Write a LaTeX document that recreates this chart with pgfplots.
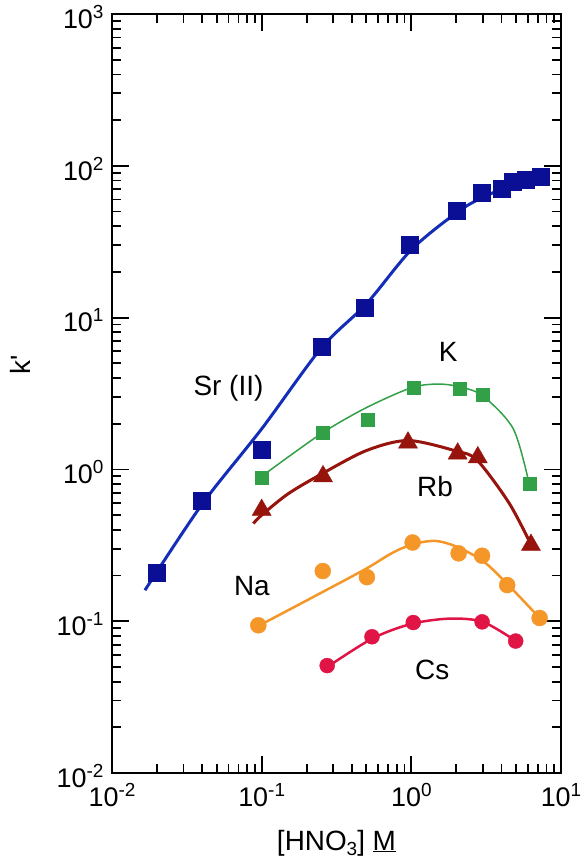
\documentclass[border=0pt]{standalone}
\usepackage{pgfplots}
\pgfplotsset{compat=1.18}
\usepackage{fontspec}
\setmainfont{Liberation Sans}
\definecolor{srline}{RGB}{20,45,185}
\definecolor{srmark}{RGB}{10,15,150}
\definecolor{kgreen}{RGB}{50,160,70}
\definecolor{rbred}{RGB}{150,20,12}
\definecolor{naorange}{RGB}{245,150,40}
\definecolor{cscrimson}{RGB}{225,20,70}
\newcommand{\tickfont}{\fontsize{27}{32}\selectfont}
\newcommand{\labfont}{\fontsize{28}{33}\selectfont}
\newcommand{\myexp}[1]{\raisebox{10bp}{\fontsize{19}{21}\selectfont #1}}
\newcommand{\mysub}[1]{\raisebox{-5bp}{\fontsize{19}{21}\selectfont #1}}
\begin{document}
\begin{tikzpicture}
\path[use as bounding box] (-112bp,-85bp) rectangle (469bp,773bp);
\begin{axis}[
  scale only axis, width=449bp, height=759bp,
  xmode=log, ymode=log,
  xmin=0.01, xmax=10, ymin=0.01, ymax=1000,
  axis line style={line width=2bp},
  tick align=inside,
  major tick length=17bp, minor tick length=9bp,
  every tick/.style={black, line width=1.8bp},
  xtick={0.01,0.1,1,10},
  xticklabels={10\myexp{-2},10\myexp{-1},10\myexp{0},10\myexp{1}},
  ytick={0.01,0.1,1,10,100,1000},
  yticklabels={10\myexp{-2},10\myexp{-1},10\myexp{0},10\myexp{1},10\myexp{2},10\myexp{3}},
  ticklabel style={font=\tickfont},
  xticklabel style={yshift=-7bp},
  yticklabel style={xshift=-5bp, yshift=-3bp},
  xlabel={[HNO\mysub{3}] \underline{M}},
  xlabel style={font=\labfont, at={(axis description cs:0.5,0)}, anchor=center, yshift=-70bp},
  ylabel={k\textquotesingle},
  ylabel style={font=\labfont, at={(axis description cs:-0.205,0.5375)}, anchor=center, rotate=0},
  clip=false,
]
% Sr (II) fit line
\addplot[srline, line width=3bp, smooth] coordinates {
 (0.0166,0.16) (0.04,0.59) (0.1,1.85) (0.25,6.3) (0.5,12.3) (1,28) (2,49) (3,62) (5,76) (8,87)};
\addplot[only marks, mark=square*, mark size=8.5bp, color=srmark] coordinates {
 (0.020,0.21) (0.04,0.62) (0.1,1.35) (0.25,6.4) (0.49,11.6) (0.98,30.3) (2.02,50.5)
 (2.95,66.5) (4.0,70.5) (4.75,79) (5.8,81) (7.3,84.5)};
% K
\addplot[kgreen, line width=1.5bp, smooth] coordinates {
 (0.1,0.9) (0.25,1.72) (0.5,2.55) (1.0,3.45) (1.5,3.65) (2.1,3.5) (3,3.05) (4.8,1.85) (6.1,0.82)};
\addplot[only marks, mark=square*, mark size=6.5bp, color=kgreen] coordinates {
 (0.1,0.88) (0.257,1.74) (0.51,2.11) (1.04,3.44) (2.11,3.42) (3.0,3.09) (6.2,0.80)};
% Rb
\addplot[rbred, line width=3bp, smooth] coordinates {
 (0.088,0.44) (0.1,0.5) (0.15,0.69) (0.25,0.93) (0.5,1.33) (0.95,1.55) (2.0,1.32) (2.75,1.15) (4.5,0.6) (6.4,0.31)};
\addplot[only marks, mark=triangle*, mark size=11bp, color=rbred] coordinates {
 (0.1,0.54) (0.257,0.90) (0.95,1.50) (2.04,1.27) (2.78,1.20) (6.3,0.318)};
% Na
\addplot[naorange, line width=2.5bp, smooth] coordinates {
 (0.095,0.093) (0.25,0.154) (0.5,0.222) (0.7,0.272) (0.85,0.3) (1.0,0.318) (1.2,0.333) (1.5,0.337) (2.0,0.31) (3,0.25) (4.4,0.175) (7.2,0.105)};
\addplot[only marks, mark=*, mark size=8bp, color=naorange] coordinates {
 (0.095,0.094) (0.256,0.214) (0.505,0.195) (1.02,0.33) (2.07,0.28) (2.97,0.27) (4.37,0.173) (7.2,0.105)};
% Cs
\addplot[cscrimson, line width=2.5bp, smooth] coordinates {
 (0.275,0.05) (0.55,0.077) (1.0,0.096) (1.8,0.104) (3,0.099) (5,0.074)};
\addplot[only marks, mark=*, mark size=7.5bp, color=cscrimson] coordinates {
 (0.274,0.051) (0.546,0.079) (1.03,0.098) (2.97,0.099) (4.98,0.074)};
% labels
\node[font=\labfont] at (axis cs:0.06,3.4) {Sr (II)};
\node[font=\labfont] at (axis cs:1.76,5.95) {K};
\node[font=\labfont] at (axis cs:1.44,0.77) {Rb};
\node[font=\labfont] at (axis cs:0.086,0.17) {Na};
\node[font=\labfont] at (axis cs:1.38,0.048) {Cs};
\end{axis}
\end{tikzpicture}
\end{document}
